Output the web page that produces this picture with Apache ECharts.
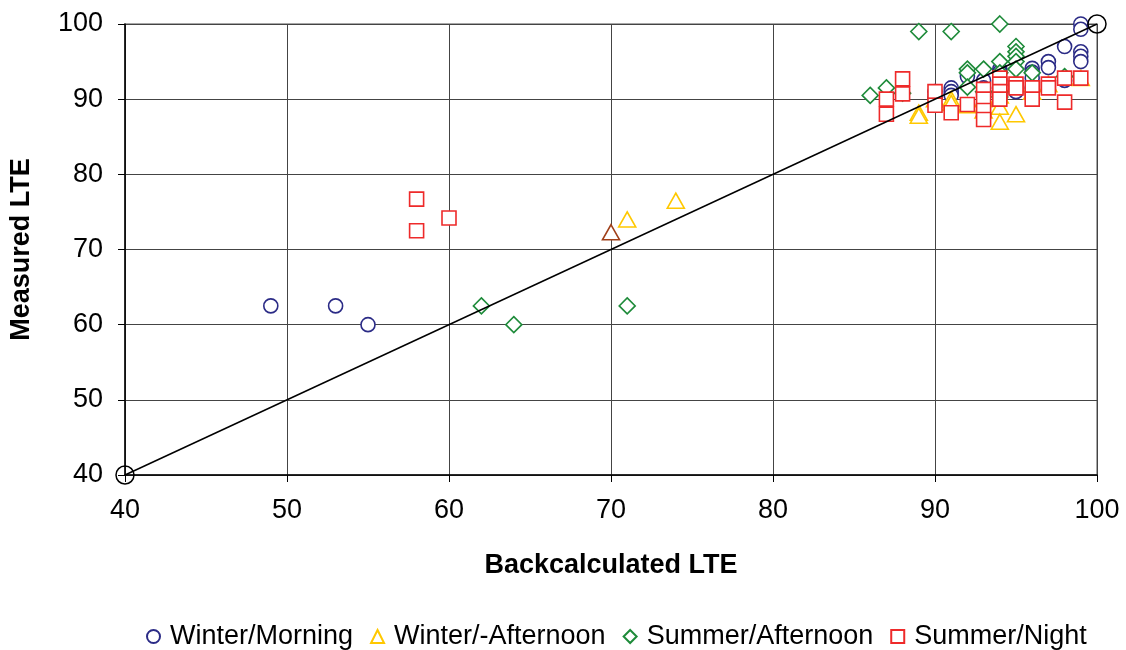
<!DOCTYPE html>
<html>
<head>
<meta charset="utf-8">
<script src="https://cdn.jsdelivr.net/npm/echarts@6/dist/echarts.min.js"></script>
<style>
html,body{margin:0;padding:0;background:#fff;}
#chart{width:1126px;height:650px;}
</style>
</head>
<body>
<div id="chart"></div>
<script>
// Tick labels
const xTicks = [40, 50, 60, 70, 80, 90, 100];
const yTicks = [40, 50, 60, 70, 80, 90, 100];

// Series values: [Backcalculated LTE, Measured LTE]
const winterMorning = [
  [49,62.5],[53,62.5],[55,60],
  [90,91],[90,90.3],
  [91,91.5],[91,91],[91,90.5],
  [92,93.5],[92,93],
  [93,92.5],[93,91.5],[93,90.8],
  [94,94],[94,93.6],[94,92.5],[94,90.5],
  [95,92],[95,91],
  [96,94.1],[96,93.6],[96,92.8],[96,91.5],
  [97,95],[97,94.2],
  [98,97],[98,92.5],
  [99,100],[99,99.3],[99,96.3],[99,95.7],[99,95]
];
const winterAfternoon = [
  [71,74],[74,76.5],
  [89,88.2],[89,87.8],
  [90,90],
  [91,90],[91,89.5],
  [92,89.2],
  [93,90],[93,88.5],
  [94,89],[94,87],[94,90.5],
  [95,92],[95,88],
  [96,91],
  [97,92],
  [99,92.8]
];
const winterAfternoonOutlier = [[70,72.3]];
const summerAfternoon = [
  [62,62.5],[64,60],[71,62.5],
  [86,90.5],[87,91.5],[88,90.8],
  [89,99],[91,99],[94,100],
  [92,94],[92,93.5],[92,91.6],
  [93,94],[93,91],
  [94,95],[94,93.5],[94,91],[94,90.3],
  [95,97],[95,96.3],[95,95.7],[95,95],[95,94],
  [96,93.5],
  [98,93]
];
const summerNight = [
  [58,76.7],[58,72.5],[60,74.2],
  [87,90],[87,88],
  [88,92.7],[88,90.7],
  [90,91],[90,89.2],
  [91,88.2],
  [92,89.3],
  [93,91.3],[93,90],[93,88.5],[93,87.3],
  [94,92.8],[94,92],[94,91],[94,90],
  [95,92],[95,91.5],
  [96,91.5],[96,90],
  [97,92],[97,91.5],
  [98,92.8],[98,89.6],
  [99,92.8]
];
const equalityLine = [[40,40],[100,100]];

const FONT = "'Liberation Sans', Arial, sans-serif";
const colors = {
  morning: '#2B2B86',
  wAfternoon: '#FFC800',
  sAfternoon: '#1E8B3A',
  night: '#EE2A2A',
  outlier: '#A0401A'
};

function hollow(color) {
  return { color: '#ffffff', borderColor: color, borderWidth: 1.6, opacity: 1 };
}

const chart = echarts.init(document.getElementById('chart'));
chart.setOption({
  animation: false,
  backgroundColor: '#ffffff',
  grid: {
    left: 125, right: 29, top: 24, bottom: 175,
    show: true, borderColor: '#8a8a8a', borderWidth: 1.5, backgroundColor: 'transparent'
  },
  legend: {
    top: 618,
    left: 141,
    itemWidth: 13,
    itemHeight: 13,
    itemGap: 17,
    selectedMode: false,
    data: ['Winter/Morning', 'Winter/-Afternoon', 'Summer/Afternoon', 'Summer/Night'],
    textStyle: { fontFamily: FONT, fontSize: 27, color: '#000', padding: [0, 0, 0, 5] }
  },
  xAxis: {
    type: 'value', min: xTicks[0], max: xTicks[xTicks.length - 1], interval: 10,
    name: 'Backcalculated LTE', nameLocation: 'middle', nameGap: 77,
    nameTextStyle: { fontFamily: FONT, fontSize: 27, fontWeight: 'bold', color: '#000' },
    axisLine: { show: true, onZero: false, lineStyle: { color: '#000', width: 1.5 } },
    axisTick: { show: true, inside: false, length: 7, lineStyle: { color: '#000' } },
    axisLabel: { fontFamily: FONT, fontSize: 27, color: '#000', margin: 22 },
    splitLine: { show: true, lineStyle: { color: '#444', width: 1 } }
  },
  yAxis: {
    type: 'value', min: yTicks[0], max: yTicks[yTicks.length - 1], interval: 10,
    name: 'Measured LTE', nameLocation: 'middle', nameGap: 90, nameRotate: 90,
    nameTextStyle: { fontFamily: FONT, fontSize: 27, fontWeight: 'bold', color: '#000' },
    axisLine: { show: true, onZero: false, lineStyle: { color: '#000', width: 1.5 } },
    axisTick: { show: true, inside: false, length: 7, lineStyle: { color: '#000' } },
    axisLabel: { fontFamily: FONT, fontSize: 27, color: '#000', margin: 22 },
    splitLine: { show: true, lineStyle: { color: '#444', width: 1 } }
  },
  series: [
    {
      name: 'Winter/Morning', type: 'scatter', symbol: 'circle', symbolSize: 14,
      itemStyle: hollow(colors.morning), data: winterMorning, z: 3
    },
    {
      name: 'Winter/-Afternoon', type: 'scatter', symbol: 'triangle', symbolSize: [17, 15],
      itemStyle: hollow(colors.wAfternoon), data: winterAfternoon, z: 3
    },
    {
      name: 'Winter/-Afternoon', type: 'scatter', symbol: 'triangle', symbolSize: [17, 15],
      itemStyle: hollow(colors.outlier), data: winterAfternoonOutlier, z: 3
    },
    {
      name: 'Summer/Afternoon', type: 'scatter', symbol: 'diamond', symbolSize: 16,
      itemStyle: hollow(colors.sAfternoon), data: summerAfternoon, z: 3
    },
    {
      name: 'Summer/Night', type: 'scatter', symbol: 'rect', symbolSize: 14,
      itemStyle: hollow(colors.night), data: summerNight, z: 3
    },
    {
      name: '1:1', type: 'line', data: equalityLine, symbol: 'circle', symbolSize: 18,
      showSymbol: true, silent: true, z: 4,
      lineStyle: { color: '#000', width: 1.5 },
      itemStyle: { color: 'transparent', borderColor: '#000', borderWidth: 1.5 }
    }
  ]
});
</script>
</body>
</html>
